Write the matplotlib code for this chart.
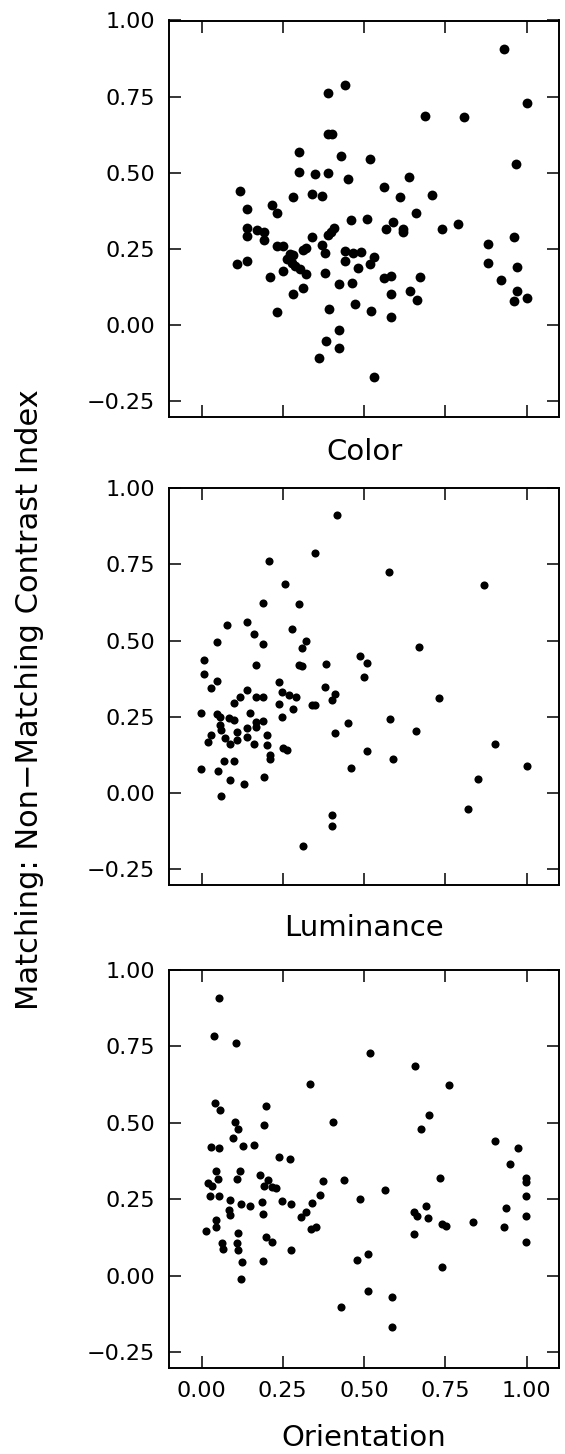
import matplotlib
matplotlib.use("Agg")
import matplotlib.pyplot as plt

#------------------------------------------------------------------------------
# data

color_x = [0.930, 0.44, 0.39, 1.0, 0.689, 0.808, 0.39, 0.40, 0.30, 0.43, 0.519, 0.969, 0.30, 0.35,
           0.39, 0.451, 0.639, 0.118, 0.56, 0.28, 0.339, 0.37, 0.61, 0.71, 0.14, 0.218, 0.231, 0.66,
           0.46, 0.51, 0.14, 0.14, 0.171, 0.193, 0.192, 0.398, 0.408, 0.39, 0.59, 0.569, 0.62, 0.62,
           0.74, 0.79, 0.882, 0.961, 0.34, 0.231, 0.251, 0.272, 0.282, 0.313, 0.323, 0.37, 0.38,
           0.441, 0.467, 0.49, 0.531, 0.11, 0.14, 0.262, 0.277, 0.287, 0.303, 0.32, 0.21, 0.251,
           0.38, 0.441, 0.481, 0.518, 0.423, 0.462, 0.561, 0.582, 0.672, 0.582, 0.641, 0.662,
           0.882, 0.971, 0.921, 0.971, 0.961, 1.0, 0.282, 0.311, 0.473, 0.231, 0.392, 0.521, 0.582,
           0.423, 0.382, 0.423, 0.362, 0.532]
color_y = [0.908, 0.788, 0.763, 0.730, 0.687, 0.683, 0.627, 0.629, 0.567, 0.556, 0.544, 0.528, 0.502,
           0.495, 0.50, 0.479, 0.485, 0.442, 0.453, 0.42, 0.43, 0.424, 0.422, 0.427, 0.381, 0.394,
           0.370, 0.367, 0.347, 0.348, 0.32, 0.293, 0.312, 0.306, 0.279, 0.306, 0.32, 0.295, 0.34,
           0.315, 0.317, 0.306, 0.317, 0.333, 0.267, 0.291, 0.288, 0.261, 0.261, 0.235, 0.23, 0.248,
           0.252, 0.262, 0.237, 0.244, 0.238, 0.242, 0.224, 0.202, 0.211, 0.219, 0.203, 0.194, 0.183,
           0.167, 0.159, 0.177, 0.172, 0.211, 0.189, 0.2, 0.137, 0.139, 0.155, 0.161, 0.159, 0.104,
           0.113, 0.082, 0.203, 0.192, 0.148, 0.113, 0.079, 0.088, 0.102, 0.123, 0.071, 0.044, 0.052,
           0.046, 0.028, -0.014, -0.053, -0.076, -0.109, -0.170]

lum_x = [0.418, 0.348, 0.208, 0.576, 0.869, 0.257, 0.19, 0.30, 0.079, 0.139, 0.279, 0.16, 0.048, 0.19,
         0.32, 0.31, 0.669, 0.009, 0.488, 0.509, 0.169, 0.30, 0.31, 0.382, 0.009, 0.049, 0.029, 0.239,
         0.499, 0.139, 0.381, 0.411, 0.119, 0.169, 0.19, 0.249, 0.27, 0.29, 0.73, 0.40, 0.099, 0.239,
         0.282, 0.34, 0.35, -0.002, 0.048, 0.058, 0.085, 0.099, 0.149, 0.249, 0.169, 0.19, 0.169,
         0.056, 0.059, 0.139, 0.139, 0.11, 0.108, 0.028, 0.021, 0.072, 0.089, 0.161, 0.2, 0.2, 0.251,
         0.262, 0.21, 0.21, 0.41, 0.451, 0.579, 0.659, 0.51, 0.59, 0.459, 0.903, 1.001, 0.851, 0.82,
         0.07, 0.10, -0.002, 0.05, 0.089, 0.13, 0.191, 0.059, 0.402, 0.402, 0.311]
lum_y = [0.913, 0.787, 0.762, 0.725, 0.681, 0.685, 0.622, 0.621, 0.552, 0.561, 0.539, 0.52, 0.496,
         0.488, 0.498, 0.476, 0.479, 0.4375, 0.45, 0.425, 0.42, 0.42, 0.418, 0.423, 0.389, 0.368,
         0.345, 0.365, 0.379, 0.338, 0.346, 0.325, 0.314, 0.316, 0.316, 0.33, 0.321, 0.314, 0.311,
         0.305, 0.294, 0.292, 0.277, 0.287, 0.287, 0.261, 0.259, 0.25, 0.245, 0.239, 0.261, 0.25,
         0.234, 0.237, 0.217, 0.222, 0.208, 0.212, 0.184, 0.201, 0.173, 0.19, 0.166, 0.179, 0.162,
         0.16, 0.19, 0.157, 0.149, 0.14, 0.124, 0.113, 0.197, 0.23, 0.242, 0.202, 0.139, 0.113,
         0.083, 0.16, 0.09, 0.047, -0.051, 0.105, 0.105, 0.08, 0.071, 0.044, 0.03, 0.052, -0.011,
         -0.073, -0.109, -0.173]

ori_x = [0.054, 0.039, 0.106, 0.517, 0.658, 0.335, 0.763, 0.043, 0.058, 0.198, 0.70, 0.102, 0.113,
         0.192, 0.405, 0.676, 0.097, 0.904, 0.973, 0.028, 0.053, 0.128, 0.163, 0.237, 0.272, 0.948,
         0.046, 0.051, 0.118, 0.11, 0.179, 0.204, 0.192, 0.217, 0.228, 0.021, 0.033, 0.374, 0.438,
         0.735, 0.999, 0.999, 0.564, 0.026, 0.053, 0.366, 0.999, 0.087, 0.489, 0.248, 0.274, 0.122,
         0.148, 0.187, 0.341, 0.085, 0.089, 0.19, 0.32, 0.307, 0.692, 0.655, 0.664, 0.696, 0.938,
         0.999, 0.046, 0.044, 0.015, 0.112, 0.338, 0.353, 0.741, 0.752, 0.834, 0.93, 0.655, 0.064,
         0.066, 0.199, 0.217, 0.108, 0.112, 0.274, 0.999, 0.125, 0.19, 0.479, 0.513, 0.741, 0.122,
         0.512, 0.587, 0.428, 0.586]
ori_y = [0.907, 0.785, 0.761, 0.727, 0.686, 0.626, 0.625, 0.564, 0.542, 0.556, 0.527, 0.502, 0.479,
         0.493, 0.502, 0.481, 0.449, 0.44, 0.418, 0.42, 0.419, 0.426, 0.427, 0.39, 0.382, 0.366,
         0.344, 0.316, 0.344, 0.316, 0.33, 0.312, 0.294, 0.29, 0.287, 0.303, 0.294, 0.31, 0.314,
         0.321, 0.319, 0.306, 0.279, 0.261, 0.261, 0.265, 0.2625, 0.248, 0.252, 0.243, 0.235, 0.235,
         0.227, 0.24, 0.237, 0.216, 0.199, 0.203, 0.21, 0.191, 0.227, 0.21, 0.196, 0.188, 0.221,
         0.196, 0.183, 0.161, 0.147, 0.139, 0.154, 0.158, 0.17, 0.163, 0.175, 0.158, 0.137, 0.107,
         0.088, 0.126, 0.112, 0.107, 0.085, 0.085, 0.112, 0.046, 0.047, 0.052, 0.072, 0.03, -0.01,
         -0.051, -0.071, -0.103, -0.166]

x_ticks = [0.0, 0.25, 0.5, 0.75, 1.0]
x_tick_labels = ["0.00", "0.25", "0.50", "0.75", "1.00"]
y_ticks = [-0.25, 0.0, 0.25, 0.5, 0.75, 1.0]
y_tick_labels = ["\u22120.25", "0.00", "0.25", "0.50", "0.75", "1.00"]

panels = [
    ("Color", color_x, color_y, 50),
    ("Luminance", lum_x, lum_y, 34),
    ("Orientation", ori_x, ori_y, 34),
]

#------------------------------------------------------------------------------
# figure

W, H = 565, 1454
fig = plt.figure(figsize=(W / 100, H / 100), dpi=100)

# axes boxes in pixels: (top, bottom)
boxes = [(20.5, 416.7), (488.0, 884.5), (970.0, 1367.5)]
left_px, right_px = 169, 559
label_pads = [15, 21, 16]

for i, (name, xs, ys, size) in enumerate(panels):
    top, bot = boxes[i]
    ax = fig.add_axes([left_px / W, 1 - bot / H, (right_px - left_px) / W, (bot - top) / H])
    ax.scatter(xs, ys, s=size, c="black", linewidths=0)
    ax.set_xlim(-0.1, 1.1)
    ax.set_ylim(-0.3, 1.0)
    ax.set_xticks(x_ticks)
    ax.set_yticks(y_ticks)
    ax.set_yticklabels(y_tick_labels)
    last = i == len(panels) - 1
    if last:
        ax.set_xticklabels(x_tick_labels)
    ax.tick_params(direction="in", length=8.5, width=1.1, top=True, right=True,
                   labelbottom=last, labelsize=16, pad=10)
    for sp in ax.spines.values():
        sp.set_linewidth(1.4)
    ax.set_xlabel(name, fontsize=21, labelpad=label_pads[i])

fig.text(30 / W, 1 - 700 / H, "Matching: Non\u2212Matching Contrast Index",
         rotation=90, ha="center", va="center", fontsize=22)

fig.savefig("out.png", dpi=100)
